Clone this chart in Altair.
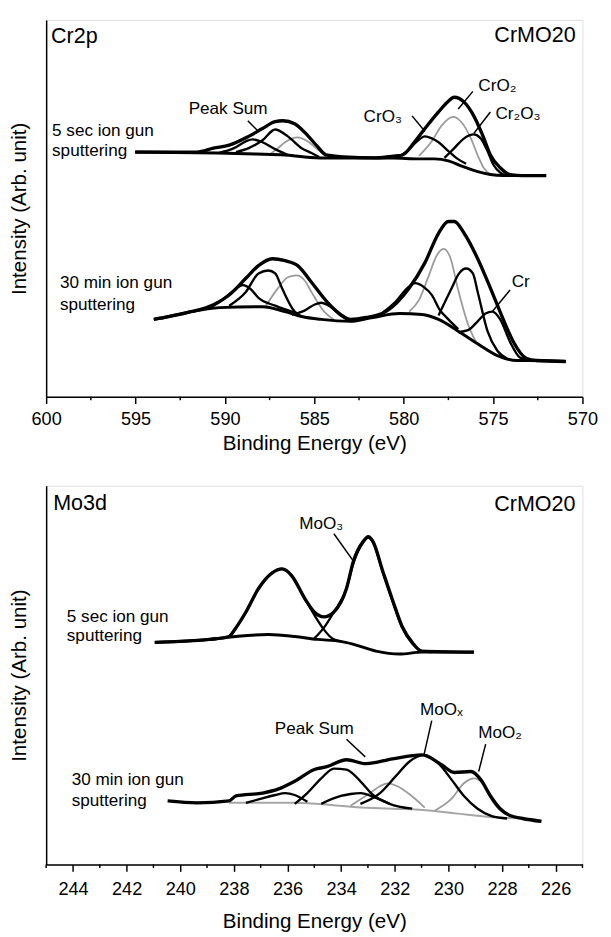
import altair as alt
import pandas as pd

FONT = "Liberation Sans"

# ---------------- Cr2p panel (binding energy eV, intensity arb. unit) ----------------
CR_MAJOR_TICKS = [570, 575, 580, 585, 590, 595, 600]
CR_MINOR_TICKS = [572.5, 577.5, 582.5, 587.5, 592.5, 597.5]

CR_5S_BG = [(595.02, 250), (590.47, 249), (588.28, 248), (586.64, 247), (585.55, 245), (584.45, 244),
            (582.81, 244), (580.62, 244), (579.14, 243), (578.27, 243), (577.50, 241), (576.79, 236),
            (575.86, 230), (575.15, 227), (574.43, 226), (572.03, 226)]
CR_5S_SUM = [(595.02, 250), (591.57, 250), (590.64, 254), (589.76, 257), (588.67, 266), (587.90, 274),
             (587.19, 281), (586.75, 282), (586.10, 279), (585.38, 267), (584.84, 256), (584.34, 247),
             (583.36, 245), (581.55, 244), (580.46, 246), (580.07, 247), (579.36, 261), (578.81, 274),
             (578.05, 291), (577.50, 302), (577.17, 306), (576.62, 301), (576.08, 287), (575.58, 267),
             (575.15, 247), (574.60, 234), (574.05, 227), (573.34, 226), (572.03, 226)]
CR_5S_CRO3_B = [(590.37, 249), (589.49, 254), (588.83, 261), (588.45, 263), (587.90, 260), (587.19, 253), (586.48, 247)]
CR_5S_CRO2_B = [(589.38, 250), (588.67, 254), (587.90, 262), (587.19, 273), (586.48, 266), (585.71, 254),
                (585.16, 249), (584.73, 245)]
CR_5S_CR2O3_B = [(587.46, 248), (587.03, 254), (586.64, 260), (585.93, 265), (585.38, 261), (584.84, 253), (584.34, 246)]
CR_5S_CRO3_A = [(580.35, 245), (579.80, 251), (579.25, 261), (578.81, 266), (578.43, 264), (578.05, 260),
                (577.50, 251), (577.06, 244), (576.51, 238)]
CR_5S_CRO2_A = [(579.14, 246), (578.43, 261), (577.88, 277), (577.23, 286), (576.79, 281), (576.24, 264),
                (575.80, 244), (575.53, 234), (575.15, 227)]
CR_5S_CR2O3_A = [(577.72, 244), (577.17, 254), (576.62, 264), (576.08, 268), (575.69, 264), (575.31, 251),
                 (574.98, 237), (574.60, 229), (574.22, 226)]

CR_30_BG = [(593.98, 79), (593.38, 81), (592.12, 86), (590.31, 91), (587.90, 92), (586.64, 87), (585.71, 82),
            (584.62, 79), (582.97, 77), (581.72, 81), (580.24, 85), (578.98, 84), (578.05, 79), (576.95, 67),
            (575.86, 54), (574.76, 42), (573.67, 37), (572.96, 37), (570.93, 36)]
CR_30_SUM = [(593.98, 79), (593.38, 81), (592.12, 86), (590.64, 94), (589.76, 104), (588.83, 121), (588.12, 134),
             (587.35, 141), (586.64, 139), (585.93, 134), (585.16, 117), (584.29, 97), (583.52, 84), (582.97, 79),
             (582.10, 81), (581.00, 87), (579.69, 111), (578.81, 137), (578.05, 167), (577.50, 179), (577.17, 179),
             (576.62, 167), (575.86, 141), (575.15, 111), (574.43, 79), (573.89, 57), (573.12, 39), (572.57, 37),
             (570.93, 36)]
CR_30_CRO3_B = [(590.86, 91), (590.20, 98), (589.54, 108), (589.00, 114), (588.56, 110), (588.12, 101),
                (587.19, 93), (585.93, 85)]
CR_30_CRO2_B = [(589.76, 93), (588.83, 107), (588.12, 126), (587.57, 129), (587.19, 126), (586.81, 111),
                (586.10, 87), (585.71, 82)]
CR_30_CR2O3_B = [(587.74, 92), (587.03, 111), (586.48, 122), (585.99, 124), (585.55, 119), (585.16, 107),
                 (584.45, 87), (583.91, 79)]
CR_30_CR_B = [(586.26, 84), (585.55, 88), (585.00, 94), (584.62, 96), (584.18, 93), (583.52, 83), (582.97, 77)]
CR_30_CRO3_A = [(581.17, 86), (580.46, 97), (579.80, 111), (579.36, 116), (578.87, 112), (578.43, 104),
                (577.99, 89), (577.50, 79), (576.95, 69)]
CR_30_CRO2_A = [(579.69, 87), (579.14, 99), (578.59, 124), (578.16, 144), (577.77, 151), (577.39, 142),
                (576.95, 109), (576.40, 74), (575.86, 54), (575.31, 48), (574.76, 42)]
CR_30_CR2O3_A = [(578.05, 83), (577.34, 110), (576.90, 126), (576.51, 131), (576.13, 126), (575.86, 107),
                 (575.31, 67), (574.76, 47), (574.22, 39)]
CR_30_CR_A = [(576.95, 66), (576.40, 68), (575.86, 77), (575.42, 85), (575.04, 87), (574.60, 79), (574.05, 56),
              (573.50, 40), (572.96, 37)]

CR_LABELS = [("Cr2p", 599.73, 361, "left"), ("CrMO20", 570.38, 362, "right")]
CR_NOTES = [("Peak Sum", 589.82, 289, "center"), ("5 sec ion gun", 599.67, 266, "left"),
            ("sputtering", 599.67, 246, "left"), ("CrO₃", 581.17, 281, "center"),
            ("CrO₂", 574.76, 312, "center"), ("Cr₂O₃", 573.61, 284, "center"),
            ("30 min ion gun", 599.23, 111, "left"), ("sputtering", 599.23, 89, "left"),
            ("Cr", 573.45, 112, "center")]
CR_POINTERS = [(588.72, 282, 588.12, 271), (579.53, 287, 578.81, 271), (576.13, 312, 576.95, 294),
               (575.15, 291, 576.08, 269), (574.05, 109, 575.04, 87)]

# ---------------- Mo3d panel ----------------
MO_MAJOR_TICKS = [226, 228, 230, 232, 234, 236, 238, 240, 242, 244]
MO_MINOR_TICKS = [225, 227, 229, 231, 233, 235, 237, 239, 241, 243, 245]

MO_5S_BG = [(240.95, 227), (238.91, 230), (237.92, 233), (236.72, 235), (235.73, 233), (234.89, 230),
            (234.01, 228), (233.54, 225), (232.70, 218), (231.82, 215), (230.99, 217), (229.05, 217)]
MO_5S_SUM = [(240.95, 227), (238.91, 230), (238.18, 233), (237.92, 242), (237.55, 258), (237.08, 282),
             (236.57, 298), (236.20, 302), (235.84, 295), (235.36, 272), (235.00, 258), (234.64, 253),
             (234.27, 258), (233.80, 282), (233.54, 310), (233.18, 330), (232.99, 335), (232.81, 330),
             (232.45, 300), (232.08, 270), (231.72, 243), (231.35, 227), (230.99, 218), (229.05, 217)]
MO_5S_MOO3_B = [(238.18, 233), (237.92, 242), (237.55, 258), (237.08, 282), (236.57, 298), (236.20, 302),
                (235.84, 295), (235.36, 272), (235.00, 255), (234.64, 240), (234.38, 232), (234.01, 228)]
MO_5S_MOO3_A = [(235.00, 231), (234.64, 242), (234.27, 258), (233.80, 282), (233.54, 308), (233.18, 329),
                (232.99, 334), (232.81, 329), (232.45, 299), (232.08, 269), (231.72, 242), (231.35, 226),
                (230.99, 218), (230.62, 217)]

MO_30_BG = [(238.18, 63), (235.73, 63), (233.07, 58), (232.08, 57), (230.62, 55), (229.64, 52), (228.18, 48),
            (227.23, 47), (226.53, 45)]
MO_30_SUM = [(240.47, 65), (239.38, 63), (238.18, 65), (237.92, 70), (236.93, 73), (236.35, 77), (235.73, 85),
             (235.00, 97), (234.53, 100), (233.80, 107), (233.07, 103), (232.08, 108), (230.99, 112),
             (230.26, 102), (229.78, 94), (229.16, 95), (228.80, 87), (228.43, 70), (228.07, 57), (227.70, 50),
             (227.23, 47), (226.53, 44)]
MO_30_M1 = [(237.55, 63), (237.01, 67), (236.46, 71), (236.09, 73), (235.73, 71), (235.26, 64)]
MO_30_M2 = [(235.73, 62), (235.26, 73), (234.74, 88), (234.27, 98), (233.80, 97), (233.28, 85), (232.81, 71),
            (232.19, 62), (231.35, 57)]
MO_30_M3 = [(234.74, 62), (234.01, 70), (233.65, 72), (233.28, 73), (232.70, 68), (232.19, 62)]
MO_30_M4 = [(233.65, 60), (232.92, 73), (232.55, 80), (232.26, 83), (231.90, 80), (231.46, 72), (230.88, 58)]
MO_30_M5 = [(233.28, 62), (232.55, 73), (231.97, 90), (231.46, 105), (230.91, 112), (230.36, 103), (229.89, 87),
            (229.42, 70), (228.91, 57), (228.43, 50), (227.81, 47)]
MO_30_M6 = [(230.51, 55), (229.89, 67), (229.42, 83), (229.05, 88), (228.69, 82), (228.32, 63), (227.96, 53),
            (227.45, 48)]

MO_LABELS = [("Mo3d", 244.74, 362, "left"), ("CrMO20", 225.26, 361, "right")]
MO_NOTES = [("MoO₃", 234.74, 343, "center"), ("5 sec ion gun", 244.23, 248, "left"),
            ("sputtering", 244.23, 228, "left"), ("Peak Sum", 235.00, 133, "center"),
            ("MoOₓ", 230.26, 153, "center"), ("MoO₂", 228.07, 129, "center"),
            ("30 min ion gun", 244.05, 81, "left"), ("sputtering", 244.05, 60, "left")]
MO_POINTERS = [(234.27, 338, 233.54, 310), (233.80, 128, 233.10, 110), (230.62, 147, 230.91, 112),
               (228.61, 123, 228.87, 95)]

CR_CURVES = [
    ("5s_bg", "bg", CR_5S_BG), ("5s_sum", "sum", CR_5S_SUM),
    ("5s_cro3_b", "comp", CR_5S_CRO3_B), ("5s_cro2_b", "comp", CR_5S_CRO2_B), ("5s_cr2o3_b", "gray", CR_5S_CR2O3_B),
    ("5s_cro3_a", "comp", CR_5S_CRO3_A), ("5s_cro2_a", "gray", CR_5S_CRO2_A), ("5s_cr2o3_a", "comp", CR_5S_CR2O3_A),
    ("30_bg", "bg", CR_30_BG), ("30_sum", "sum", CR_30_SUM),
    ("30_cro3_b", "comp", CR_30_CRO3_B), ("30_cro2_b", "comp", CR_30_CRO2_B), ("30_cr2o3_b", "gray", CR_30_CR2O3_B),
    ("30_cr_b", "comp", CR_30_CR_B), ("30_cro3_a", "comp", CR_30_CRO3_A), ("30_cro2_a", "gray", CR_30_CRO2_A),
    ("30_cr2o3_a", "comp", CR_30_CR2O3_A), ("30_cr_a", "comp", CR_30_CR_A),
]
MO_CURVES = [
    ("5s_bg", "bg", MO_5S_BG), ("5s_sum", "sum", MO_5S_SUM),
    ("5s_moo3_b", "comp", MO_5S_MOO3_B), ("5s_moo3_a", "comp", MO_5S_MOO3_A),
    ("30_bg", "graybg", MO_30_BG), ("30_sum", "sum", MO_30_SUM),
    ("30_m1", "comp", MO_30_M1), ("30_m2", "comp", MO_30_M2), ("30_m3", "comp", MO_30_M3),
    ("30_m4", "gray", MO_30_M4), ("30_m5", "comp", MO_30_M5), ("30_m6", "gray", MO_30_M6),
]

STYLES = {
    "graybg": dict(color="#a6a6a6", strokeWidth=2.0),
    "gray": dict(color="#9a9a9a", strokeWidth=1.8),
    "comp": dict(color="black", strokeWidth=2.4),
    "bg": dict(color="black", strokeWidth=3.0),
    "sum": dict(color="black", strokeWidth=3.4),
}
ORDER = ["graybg", "gray", "comp", "bg", "sum"]


def curves_df(curves):
    rows = []
    for name, style, pts in curves:
        for e, i in pts:
            rows.append({"curve": name, "style": style, "E": e, "I": i})
    return pd.DataFrame(rows)


def text_df(items):
    return pd.DataFrame([{"text": t, "E": e, "I": i, "align": a} for t, e, i, a in items])


def panel(curves, labels, notes, pointers, dom, majors, minors, height, label_pad, title_pad):
    xs = alt.Scale(domain=dom, reverse=True, nice=False, zero=False)
    ys = alt.Scale(domain=[0, height], nice=False, zero=False)
    xaxis = alt.Axis(
        values=majors, tickSize=7, format="d",
        title="Binding Energy (eV)", titleFontSize=21, titleFontWeight="normal", titleFont=FONT,
        titleColor="black", titlePadding=title_pad, labelFontSize=18.5, labelFont=FONT, labelColor="black",
        labelPadding=label_pad, labelFlush=False, labelOverlap=False, grid=False, domainColor="black",
        domainWidth=1.5, tickColor="black", tickWidth=1.5)
    yaxis = alt.Axis(title="Intensity (Arb. unit)", labels=False, ticks=False, grid=False,
                     domainColor="black", domainWidth=1.5, titleFontSize=21, titleFontWeight="normal",
                     titleFont=FONT, titleColor="black", titlePadding=17)
    X = alt.X("E:Q", scale=xs, axis=xaxis)
    Y = alt.Y("I:Q", scale=ys, axis=yaxis)
    df = curves_df(curves)
    layers = []
    for st in ORDER:
        sub = df[df["style"] == st]
        if len(sub) == 0:
            continue
        layers.append(alt.Chart(sub).mark_line(interpolate="monotone", **STYLES[st]).encode(
            x=X, y=Y, detail="curve:N"))
    # minor ticks below the x axis
    mdf = pd.DataFrame({"E": minors})
    layers.append(alt.Chart(mdf).mark_rule(color="black", strokeWidth=1.5).encode(
        x=alt.X("E:Q", scale=xs), y=alt.value(height), y2=alt.value(height + 3.5)))
    pdf = pd.DataFrame([{"E": a, "I": b, "E2": c, "I2": d} for a, b, c, d in pointers])
    layers.append(alt.Chart(pdf).mark_rule(color="black", strokeWidth=1.5).encode(
        x=alt.X("E:Q", scale=xs), x2="E2:Q", y=alt.Y("I:Q", scale=ys), y2="I2:Q"))
    for items, size in ((labels, 22), (notes, 17.5)):
        tdf = text_df(items)
        for al in ("left", "center", "right"):
            sub = tdf[tdf["align"] == al]
            if len(sub) == 0:
                continue
            layers.append(alt.Chart(sub).mark_text(align=al, baseline="alphabetic", fontSize=size,
                                                   font=FONT, color="black").encode(
                x=alt.X("E:Q", scale=xs), y=alt.Y("I:Q", scale=ys), text="text:N"))
    return alt.layer(*layers).properties(width=548, height=height)


top = panel(CR_CURVES, CR_LABELS, CR_NOTES, CR_POINTERS, [570, 600], CR_MAJOR_TICKS, CR_MINOR_TICKS, 385, 6, 5)
bottom = panel(MO_CURVES, MO_LABELS, MO_NOTES, MO_POINTERS, [225, 245], MO_MAJOR_TICKS, MO_MINOR_TICKS, 387, 9, 13)

chart = alt.vconcat(top, bottom, spacing=32).properties(
    padding={"left": 0, "top": 1, "right": 5, "bottom": 0}
).configure_view(stroke="black", strokeWidth=1.5).configure(font=FONT)

chart.save("out.html", embed_options={"renderer": "svg", "actions": False})
